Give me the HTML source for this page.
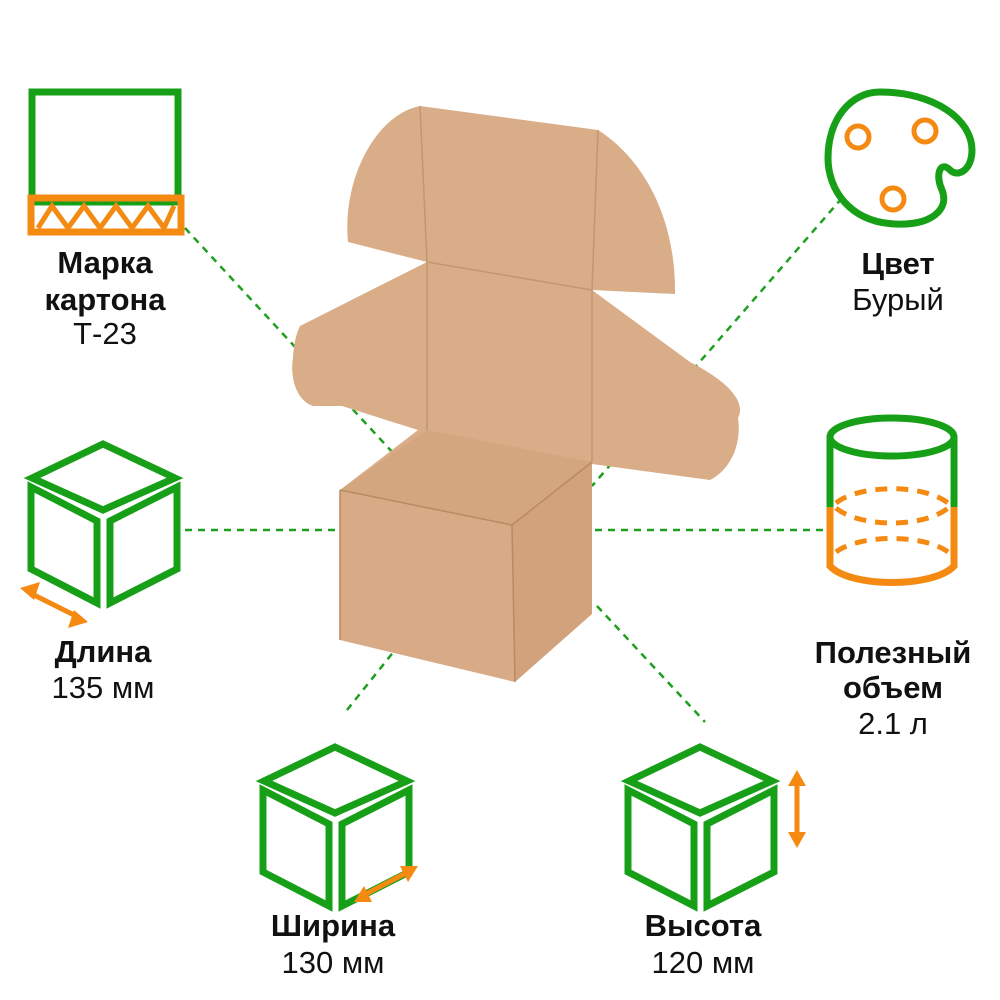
<!DOCTYPE html>
<html><head><meta charset="utf-8"><style>
body{margin:0;background:#fff;width:1000px;height:1000px;overflow:hidden}
svg{display:block}
.t{font-family:"Liberation Sans",sans-serif;font-size:31px;text-anchor:middle;fill:#111}
.b{font-weight:bold}
</style></head><body>
<svg width="1000" height="1000" viewBox="0 0 1000 1000">
<defs>
<g id="cube" fill="none" stroke="#17a017" stroke-width="7" stroke-linejoin="miter">
<polygon points="103,444 175,478 103,510 32,478"/>
<polygon points="31,487 97,521 97,603 31,569"/>
<polygon points="110,521 177,487 177,569 110,603"/>
</g>
</defs>
<g stroke="#1ea01e" stroke-width="2.5" stroke-dasharray="7,6" fill="none">
<line x1="185" y1="228" x2="395" y2="455"/>
<line x1="185" y1="530" x2="340" y2="530"/>
<line x1="347" y1="710" x2="395" y2="650"/>
<line x1="595" y1="530" x2="825" y2="530"/>
<line x1="842" y1="198" x2="592" y2="486"/>
<line x1="597" y1="606" x2="705" y2="722"/>
</g>
<!-- lid -->
<path d="M427,262 L348,242 C342,180 375,115 420,106 L598,130 C645,160 676,220 675,294 L592,290 L690,362 C735,385 745,405 738,418 C742,445 730,470 710,480 L592,464 L512,525 L340,490 L418,430 L342,406 L313,406 C295,400 290,375 293,358 C294,340 298,330 300,326 Z" fill="#d9ad88"/>
<g fill="none" stroke="#c3966f" stroke-width="1.5">
<line x1="420" y1="106" x2="427" y2="262"/>
<line x1="598" y1="130" x2="592" y2="290"/>
<line x1="427" y1="262" x2="592" y2="290"/>
<line x1="427" y1="262" x2="427" y2="430"/>
<line x1="592" y1="290" x2="592" y2="462"/>
</g>
<!-- box -->
<polygon points="340,490 427,430 592,462 512,525" fill="#d4a67f"/>
<polygon points="340,490 512,525 515,682 340,640" fill="#d8ab86"/>
<polygon points="512,525 592,462 592,614 515,682" fill="#d1a27b"/>
<g fill="none" stroke="#b88a64" stroke-width="1.5">
<polyline points="340,490 512,525 592,462"/>
<line x1="512" y1="525" x2="515" y2="682"/>
<line x1="340" y1="490" x2="340" y2="640"/>
</g>
<!-- marka -->
<rect x="32" y="92" width="146" height="110" fill="none" stroke="#17a017" stroke-width="7"/>
<rect x="31" y="198" width="150" height="34" fill="none" stroke="#f58a12" stroke-width="7"/>
<polyline points="38,228 52,206 68,228 84,206 100,228 116,206 132,228 148,206 164,228 174,206" fill="none" stroke="#f58a12" stroke-width="5"/>
<text class="t b" x="105" y="273">Марка</text>
<text class="t b" x="105" y="310">картона</text>
<text class="t" x="105" y="344">Т-23</text>
<!-- cubes -->
<use href="#cube"/>
<g stroke="#f58a12" stroke-width="5" fill="#f58a12">
<line x1="30" y1="593" x2="78" y2="617"/>
<polygon points="20,588 40,582 34,600" stroke="none"/>
<polygon points="88,622 68,628 74,610" stroke="none"/>
</g>
<text class="t b" x="103" y="662">Длина</text>
<text class="t" x="103" y="698">135 мм</text>
<use href="#cube" x="232" y="303"/>
<g stroke="#f58a12" stroke-width="5" fill="#f58a12">
<line x1="362" y1="896" x2="410" y2="871"/>
<polygon points="354,902 364,886 372,902" stroke="none"/>
<polygon points="418,866 408,882 400,866" stroke="none"/>
</g>
<text class="t b" x="333" y="936">Ширина</text>
<text class="t" x="333" y="973">130 мм</text>
<use href="#cube" x="597" y="303"/>
<g stroke="#f58a12" stroke-width="5" fill="#f58a12">
<line x1="797" y1="780" x2="797" y2="838"/>
<polygon points="797,770 788,786 806,786" stroke="none"/>
<polygon points="797,848 788,832 806,832" stroke="none"/>
</g>
<text class="t b" x="703" y="936">Высота</text>
<text class="t" x="703" y="973">120 мм</text>
<!-- palette -->
<path d="M880,92 C935,92 972,120 972,150 C972,170 958,178 950,170 C940,160 935,175 942,190 C950,210 930,226 895,224 C850,222 828,190 828,158 C828,120 850,92 880,92 Z" fill="none" stroke="#17a017" stroke-width="7"/>
<g fill="none" stroke="#f58a12" stroke-width="5">
<circle cx="858" cy="137" r="11"/><circle cx="925" cy="131" r="11"/><circle cx="893" cy="199" r="11"/>
</g>
<text class="t b" x="898" y="274">Цвет</text>
<text class="t" x="898" y="310">Бурый</text>
<!-- cylinder -->
<ellipse cx="892" cy="437" rx="62" ry="19" fill="none" stroke="#17a017" stroke-width="7"/>
<line x1="830" y1="437" x2="830" y2="507" stroke="#17a017" stroke-width="7"/>
<line x1="954" y1="437" x2="954" y2="507" stroke="#17a017" stroke-width="7"/>
<path d="M830,507 L830,566 C850,588 934,588 954,566 L954,507" fill="none" stroke="#f58a12" stroke-width="7"/>
<g fill="none" stroke="#f58a12" stroke-width="5" stroke-dasharray="12,9">
<path d="M836,503 C860,484 924,484 948,503"/>
<path d="M836,508 C860,528 924,528 948,508"/>
<path d="M836,552 C860,534 924,534 948,552"/>
</g>
<text class="t b" x="893" y="663">Полезный</text>
<text class="t b" x="893" y="698">объем</text>
<text class="t" x="893" y="734">2.1 л</text>
</svg>
</body></html>
